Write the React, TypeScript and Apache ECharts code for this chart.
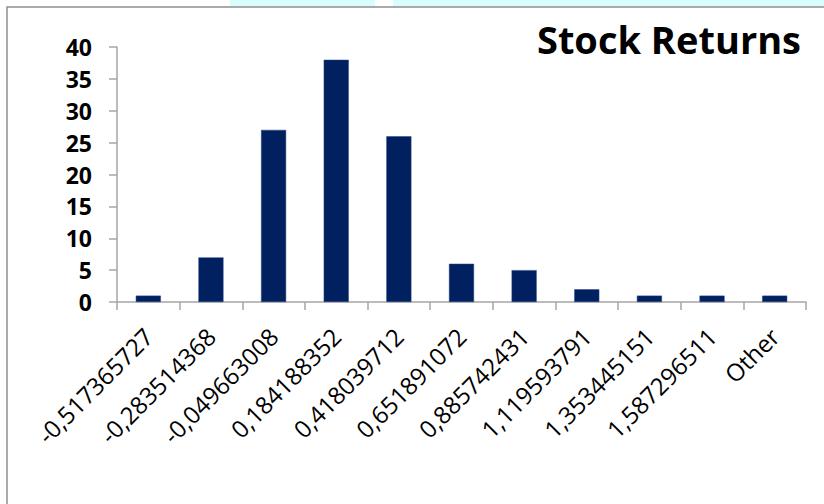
import React, { useEffect, useRef } from "react";
import * as echarts from "echarts";

const categories = [
  "-0,517365727",
  "-0,283514368",
  "-0,049663008",
  "0,184188352",
  "0,418039712",
  "0,651891072",
  "0,885742431",
  "1,119593791",
  "1,353445151",
  "1,587296511",
  "Other",
];
const frequencies = [1, 7, 27, 38, 26, 6, 5, 2, 1, 1, 1];
const titleText = "Stock Returns";

export default function App() {
  const ref = useRef<HTMLDivElement>(null);
  useEffect(() => {
    if (!ref.current) return;
    const chart = echarts.init(ref.current, undefined, { renderer: "svg" });
    chart.setOption({
      animation: false,
      backgroundColor: "#ffffff",
      title: {
        text: titleText,
        right: 18,
        top: 15,
        textStyle: {
          fontFamily: "Open Sans",
          fontWeight: "bold",
          fontSize: 38,
          color: "#000000",
        },
      },
      graphic: [
        { type: "rect", shape: { x: 230, y: 0, width: 145, height: 7 }, style: { fill: "#d9fcfd" }, silent: true },
        { type: "rect", shape: { x: 393, y: 0, width: 431, height: 7 }, style: { fill: "#d9fcfd" }, silent: true },
        {
          type: "rect",
          shape: { x: 7, y: 7, width: 840, height: 520 },
          style: { fill: "none", stroke: "#8f8f8f", lineWidth: 1.5 },
          silent: true,
        },
      ],
      grid: { left: 117, top: 47, right: 18, bottom: 202, containLabel: false },
      xAxis: {
        type: "category",
        data: categories,
        boundaryGap: true,
        axisLine: { lineStyle: { color: "#a6a6a6", width: 1.5 } },
        axisTick: { show: true, length: 8, alignWithLabel: false, lineStyle: { color: "#a6a6a6", width: 1.5 } },
        axisLabel: {
          interval: 0,
          rotate: 45,
          margin: 30,
          fontFamily: "Open Sans",
          fontSize: 24,
          color: "#000000",
        },
      },
      yAxis: {
        type: "value",
        min: 0,
        max: 40,
        interval: 5,
        splitLine: { show: false },
        axisLine: { show: true, lineStyle: { color: "#a6a6a6", width: 1.5 } },
        axisTick: { show: true, length: 8, lineStyle: { color: "#a6a6a6", width: 1.5 } },
        axisLabel: {
          margin: 25,
          fontFamily: "Open Sans",
          fontWeight: "bold",
          fontSize: 23,
          color: "#000000",
        },
      },
      series: [
        {
          type: "bar",
          data: frequencies,
          barWidth: "40%",
          itemStyle: { color: "#002060", borderColor: "#2a4580", borderWidth: 0.5 },
        },
      ],
    });
    return () => chart.dispose();
  }, []);
  return (
    <div
      ref={ref}
      style={{ position: "absolute", left: 0, top: 0, width: 824, height: 504 }}
    />
  );
}
